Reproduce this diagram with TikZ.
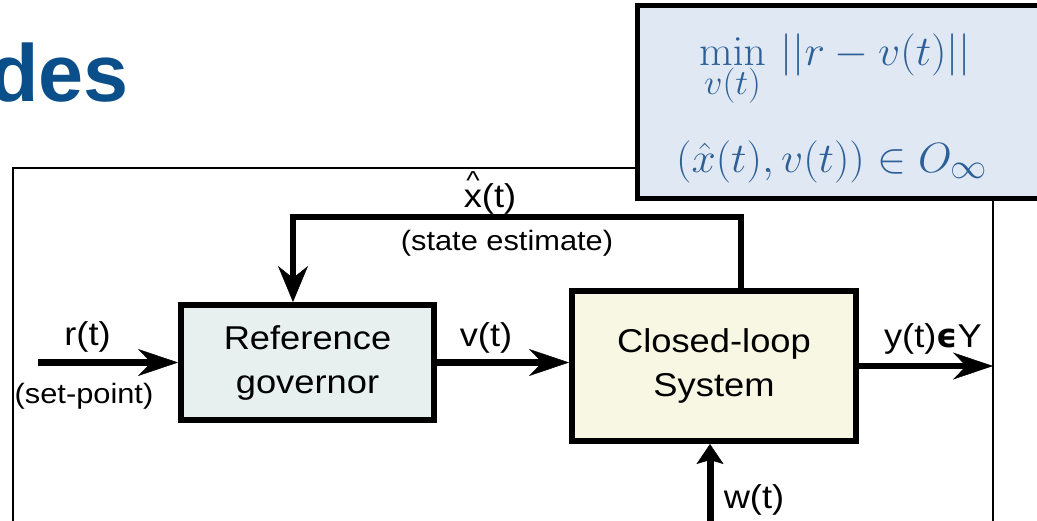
\documentclass[tikz,border=0pt]{standalone}
\usepackage{graphicx}
\usepackage[no-math]{fontspec}
\setmainfont{Liberation Sans}
\newfontfamily\diagfont{Liberation Sans}[FakeStretch=1.1]
\newfontfamily\symbfont{DejaVu Sans}
\usetikzlibrary{arrows.meta}
\definecolor{titleblue}{RGB}{11,79,138}
\definecolor{mathblue}{RGB}{46,96,152}
\definecolor{notefill}{RGB}{224,233,243}
\definecolor{govfill}{RGB}{232,239,239}
\definecolor{plantfill}{RGB}{247,247,227}
\newcommand{\widemath}[1]{\scalebox{1.75}[1.7]{\Huge$#1$}}
\begin{document}
\begin{tikzpicture}[x=1pt,y=-1pt,
  block/.style={draw=black, line width=6pt, align=center, inner sep=0pt,
    font=\diagfont\fontsize{33}{44}\selectfont},
  sig/.style={line width=6.5pt, line join=miter,
    -{Stealth[length=40pt,width=27pt,inset=13pt,line width=0.5pt]}},
  lbl/.style={inner sep=0pt, anchor=base, font=\diagfont\fontsize{33}{40}\selectfont},
  note/.style={inner sep=0pt, anchor=base, font=\diagfont\fontsize{28}{34}\selectfont},
  mathtxt/.style={inner sep=0pt, anchor=base, text=mathblue},
]
\useasboundingbox (0,0) rectangle (1037,520);

% slide title fragment
\node[anchor=base east, inner sep=0pt, text=titleblue,
      font=\bfseries\fontsize{81}{90}\selectfont] (title) at (129,101) {des};

% thin frame around the block diagram, running on below the page
\draw[line width=2pt] (13,521) -- (13,168) -- (993,168) -- (993,521);

% optimisation callout, open to the right where it leaves the page
\fill[notefill] (637.5,5.5) rectangle (1037,198.5);
\draw[line width=5pt] (1037,5.5) -- (637.5,5.5) -- (637.5,198.5) -- (1037,198.5);
\node[mathtxt] (objective) at (835,65) {\widemath{\displaystyle\min_{v(t)}\,||r-v(t)||}};
\node[mathtxt] (constraint) at (832,172) {\widemath{\big(\hat{x}(t),v(t)\big)\in O_{\infty}}};

% blocks
\node[block, fill=govfill, minimum width=253pt, minimum height=115pt] (gov)
  at (307.5,362.5) {Reference\\governor};
\node[block, fill=plantfill, minimum width=284pt, minimum height=150pt] (plant)
  at (714,366) {Closed-loop\\System};

% signal ends and corners
\coordinate (rin) at (38,362.5);
\coordinate (yout) at (993,366);
\coordinate (win) at (710,521);
\coordinate (fbR) at (741,217);
\coordinate (fbL) at (293,217);

% connectors
\draw[sig] (rin) -- (gov.west);
\draw[sig] (gov.east) -- (gov.east -| plant.west);
\draw[sig] (plant.east) -- (yout);
\draw[sig, line width=7pt, -{Stealth[length=20pt,width=27pt,inset=4pt,line width=0.5pt]}]
  (win) -- (win |- plant.south);
\draw[sig, -{Stealth[length=36pt,width=30pt,inset=12pt,line width=0.5pt]}]
  (plant.north -| fbR) -- (fbR) -- (fbL) -- (fbL |- gov.north);

% signal labels
\node[lbl] (rlab) at (87.5,345) {r(t)};
\node[note] (splab) at (84,403) {(set-point)};
\node[lbl] (vlab) at (486,346) {v(t)};
\node[lbl] (xlab) at (490,207)
  {\rlap{\raisebox{18pt}{\kern2.5pt\fontsize{26}{26}\selectfont\textasciicircum}}x(t)};
\node[note] (selab) at (507,250) {(state estimate)};
\node[lbl] (ylab) at (933,347) {y(t){\symbfont\bfseries ϵ}Y};
\node[lbl] (wlab) at (754,508) {w(t)};
\end{tikzpicture}
\end{document}
